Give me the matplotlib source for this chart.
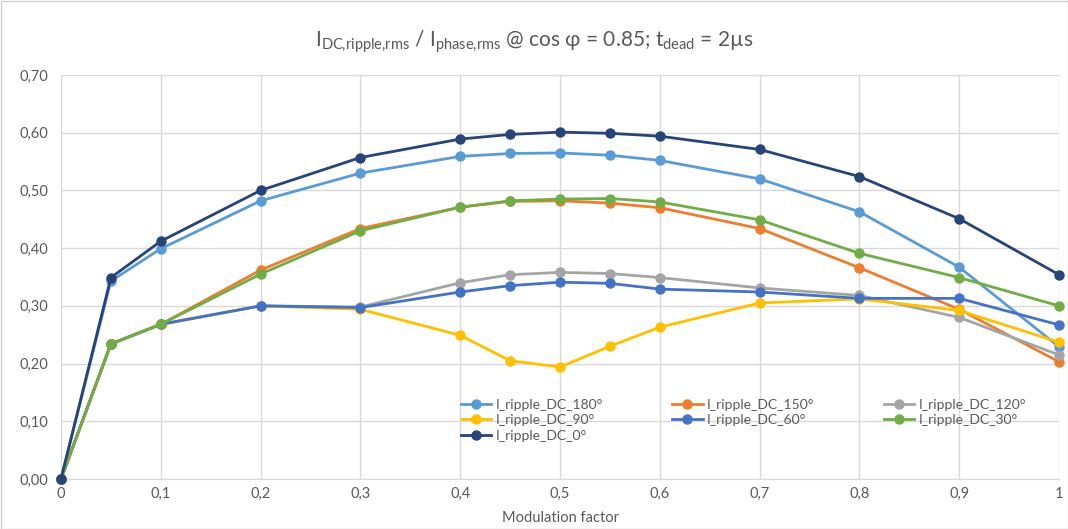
import matplotlib
matplotlib.use("Agg")
import matplotlib.pyplot as plt
from matplotlib.patches import Rectangle

plt.rcParams['font.family'] = ['Lato', 'DejaVu Sans']
plt.rcParams['mathtext.fontset'] = 'custom'
plt.rcParams['mathtext.rm'] = 'Lato'

mod = [0, 0.05, 0.1, 0.2, 0.3, 0.4, 0.45, 0.5, 0.55, 0.6, 0.7, 0.8, 0.9, 1.0]

ripple_180 = [0, 0.343, 0.399, 0.482, 0.530, 0.559, 0.564, 0.565, 0.561, 0.552, 0.520, 0.463, 0.367, 0.229]
ripple_150 = [0, 0.234, 0.268, 0.362, 0.434, 0.471, 0.481, 0.482, 0.478, 0.470, 0.434, 0.366, 0.294, 0.203]
ripple_120 = [0, 0.234, 0.268, 0.300, 0.298, 0.340, 0.354, 0.358, 0.356, 0.349, 0.331, 0.318, 0.280, 0.215]
ripple_90 = [0, 0.234, 0.268, 0.300, 0.294, 0.249, 0.205, 0.194, 0.230, 0.263, 0.305, 0.312, 0.292, 0.237]
ripple_60 = [0, 0.234, 0.268, 0.300, 0.297, 0.324, 0.335, 0.341, 0.339, 0.329, 0.324, 0.313, 0.313, 0.267]
ripple_30 = [0, 0.234, 0.268, 0.355, 0.430, 0.471, 0.482, 0.485, 0.486, 0.480, 0.449, 0.391, 0.349, 0.300]
ripple_0 = [0, 0.349, 0.412, 0.500, 0.557, 0.589, 0.597, 0.601, 0.599, 0.594, 0.571, 0.524, 0.451, 0.354]

series_labels = ["I_ripple_DC_180°", "I_ripple_DC_150°", "I_ripple_DC_120°",
                 "I_ripple_DC_90°", "I_ripple_DC_60°", "I_ripple_DC_30°", "I_ripple_DC_0°"]
series_values = [ripple_180, ripple_150, ripple_120, ripple_90, ripple_60, ripple_30, ripple_0]
series_colors = ["#5B9BD5", "#ED7D31", "#A5A5A5", "#FFC000", "#4472C4", "#70AD47", "#264478"]

x_ticks = [0, 0.1, 0.2, 0.3, 0.4, 0.5, 0.6, 0.7, 0.8, 0.9, 1.0]
x_ticklabels = ["0", "0,1", "0,2", "0,3", "0,4", "0,5", "0,6", "0,7", "0,8", "0,9", "1"]
y_ticks = [0, 0.1, 0.2, 0.3, 0.4, 0.5, 0.6, 0.7]
y_ticklabels = ["0,00", "0,10", "0,20", "0,30", "0,40", "0,50", "0,60", "0,70"]

txt = "#595959"
grid = "#D9D9D9"

fig = plt.figure(figsize=(10.68, 5.29), dpi=100)
ax = fig.add_axes([61/1068, 50/529, 998/1068, 404/529])

handles = {}
for lab, vals, col in zip(series_labels, series_values, series_colors):
    h, = ax.plot(mod, vals, color=col, lw=2.0, marker='o', ms=6.5,
                 label=lab, clip_on=False, zorder=3)
    handles[lab] = h

ax.set_xlim(0, 1)
ax.set_ylim(0, 0.7)
ax.set_xticks(x_ticks)
ax.set_xticklabels(x_ticklabels)
ax.set_yticks(y_ticks)
ax.set_yticklabels(y_ticklabels)
ax.tick_params(axis='both', length=0, colors=txt, labelsize=10.5)
ax.tick_params(axis='x', pad=6)
ax.tick_params(axis='y', pad=9)
ax.grid(True, color=grid, lw=1.0, zorder=0)
ax.set_axisbelow(True)
for s in ['top', 'right', 'left']:
    ax.spines[s].set_visible(False)
ax.spines['bottom'].set_color(grid)

ax.set_xlabel("Modulation factor", color=txt, fontsize=10.5, labelpad=7)

fig.text(0.5, 1 - 42/529,
         r"$\mathregular{I_{DC{,}ripple{,}rms}}$ / $\mathregular{I_{phase{,}rms}}$ @ cos φ = 0.85; $\mathregular{t_{dead}}$ = 2µs",
         ha='center', va='center', fontsize=15, color=txt)

order = [0, 3, 6, 1, 4, 2, 5]
hs = [handles[series_labels[i]] for i in order]
ls = [series_labels[i] for i in order]
ax.legend(hs, ls, ncol=3, loc='upper left', bbox_to_anchor=(394/998, 1 - 318/404),
          frameon=False, fontsize=10, labelcolor=txt, handlelength=2.2,
          handletextpad=0.3, columnspacing=5.0, labelspacing=0.25, borderaxespad=0)

fig.patches.append(Rectangle((0.5/1068, 0.5/529), 1 - 1/1068, 1 - 1/529, transform=fig.transFigure,
                             fill=False, edgecolor="#D0D0D0", lw=1))

fig.savefig("out.png", dpi=100)
